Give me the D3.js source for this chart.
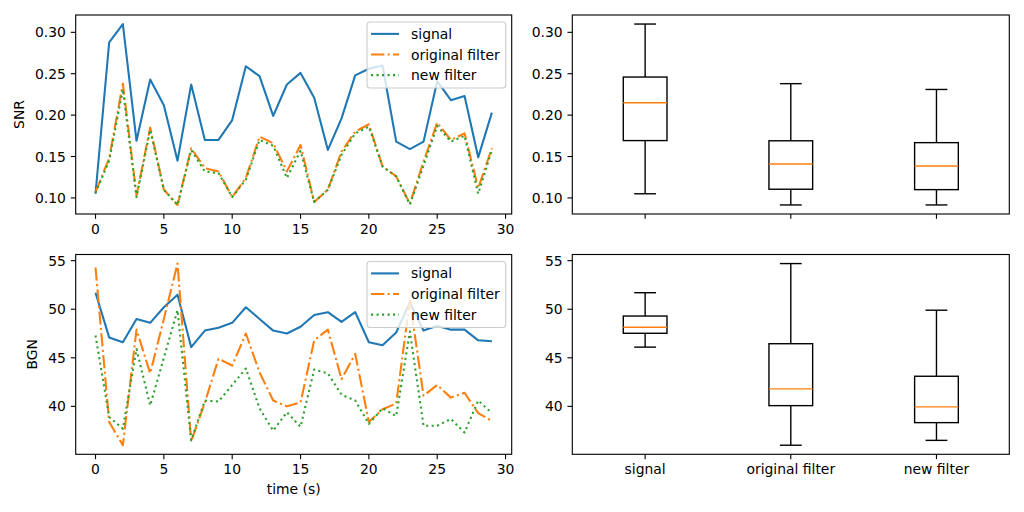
<!DOCTYPE html>
<html>
<head>
<meta charset="utf-8">
<script src="https://cdn.jsdelivr.net/npm/d3@7"></script>
<style>
  body { margin: 0; background: #fff; }
  svg { display: block; font-family: "DejaVu Sans", sans-serif; }
</style>
</head>
<body>
<svg id="chart" width="1024" height="512"></svg>
<script>
// Data
const timeSec = [0,1,2,3,4,5,6,7,8,9,10,11,12,13,14,15,16,17,18,19,20,21,22,23,24,25,26,27,28,29];
const seriesNames = ['signal', 'original filter', 'new filter'];

const snrSignal = [0.105,0.288,0.310,0.169,0.243,0.212,0.145,0.237,0.170,0.170,0.194,0.259,0.247,0.199,0.237,
                   0.251,0.221,0.158,0.196,0.248,0.256,0.260,0.168,0.159,0.168,0.241,0.218,0.223,0.149,0.203];
const snrOriginal = [0.107,0.148,0.238,0.103,0.185,0.110,0.0915,0.160,0.136,0.132,0.101,0.124,0.174,0.166,0.132,
                     0.164,0.095,0.110,0.156,0.180,0.189,0.138,0.126,0.093,0.144,0.191,0.170,0.178,0.112,0.160];
const snrNew = [0.106,0.145,0.231,0.101,0.182,0.110,0.0915,0.158,0.132,0.130,0.101,0.122,0.170,0.163,0.124,
                0.157,0.095,0.110,0.152,0.178,0.186,0.138,0.126,0.092,0.139,0.187,0.168,0.175,0.105,0.158];

const bgnSignal = [51.7,47.1,46.6,49.0,48.6,50.2,51.5,46.1,47.8,48.1,48.6,50.2,49.0,47.8,47.5,
                   48.2,49.4,49.7,48.7,49.7,46.6,46.3,47.6,50.7,47.8,48.3,47.9,47.9,46.8,46.7];
const bgnOriginal = [54.3,38.4,36.0,47.9,43.4,49.0,54.7,36.4,40.4,44.9,44.2,47.5,43.5,40.6,40.0,
                     40.4,46.8,47.9,42.8,45.4,38.4,39.7,40.3,50.9,41.1,42.2,40.9,41.4,39.3,38.5];
const bgnNew = [47.3,38.9,37.7,45.9,40.1,45.0,49.9,36.5,40.6,40.5,42.2,43.9,39.8,37.5,39.4,
                37.9,43.8,43.4,41.2,40.6,38.2,39.8,39.0,47.7,38.0,38.0,38.7,37.3,40.6,39.3];

// Styles (matplotlib defaults at 100 dpi)
const colors = ['#1f77b4', '#ff7f0e', '#2ca02c'];
const dashes = [null, '13.3,3.3,2.1,3.3', '2.1,3.4'];
const fontSize = 13.9;
const tickLen = 4.86, tickPad = 4.86;

const svg = d3.select('#chart');

const colX = { left: [75.7, 511.7], right: [572.3, 1009.3] };
const rowY = { top: [15, 214], bottom: [254.5, 454.3] };

function paddedExtent(arrays) {
  const [lo, hi] = d3.extent(arrays.flat());
  const m = (hi - lo) * 0.05;
  return [lo - m, hi + m];
}

function boxStats(values) {
  const s = values.slice().sort(d3.ascending);
  const q1 = d3.quantile(s, 0.25), med = d3.quantile(s, 0.5), q3 = d3.quantile(s, 0.75);
  const iqr = q3 - q1;
  const lo = d3.min(s.filter(v => v >= q1 - 1.5 * iqr));
  const hi = d3.max(s.filter(v => v <= q3 + 1.5 * iqr));
  const fliers = s.filter(v => v < lo || v > hi);
  return { q1, med, q3, lo, hi, fliers };
}

// Draw ticks and tick labels for one panel
function drawAxes(g, x, y, opts) {
  const [x0, x1] = x.range();
  const [yBottom, yTop] = y.range();

  // y ticks
  const yt = g.append('g');
  opts.yTicks.forEach(t => {
    yt.append('line').attr('x1', x0).attr('x2', x0 - tickLen)
      .attr('y1', y(t)).attr('y2', y(t)).attr('stroke', '#000').attr('stroke-width', 1.11);
    yt.append('text').attr('x', x0 - tickLen - tickPad).attr('y', y(t)).attr('dy', '0.36em')
      .attr('text-anchor', 'end').attr('font-size', fontSize).text(opts.yFormat(t));
  });

  // x ticks
  const xt = g.append('g');
  opts.xTicks.forEach((t, i) => {
    xt.append('line').attr('x1', x(t)).attr('x2', x(t))
      .attr('y1', yBottom).attr('y2', yBottom + tickLen).attr('stroke', '#000').attr('stroke-width', 1.11);
    if (opts.xLabels) {
      xt.append('text').attr('x', x(t)).attr('y', yBottom + tickLen + tickPad + 10.4)
        .attr('text-anchor', 'middle').attr('font-size', fontSize).text(opts.xLabels[i]);
    }
  });

  if (opts.yTitle) {
    const w = d3.max(yt.selectAll('text').nodes(), n => n.getComputedTextLength());
    const cx = x0 - tickLen - tickPad - w - 5.56 - 5.5;
    g.append('text').attr('transform', `translate(${cx},${(yBottom + yTop) / 2}) rotate(-90)`)
      .attr('text-anchor', 'middle').attr('font-size', fontSize).text(opts.yTitle);
  }
  if (opts.xTitle) {
    g.append('text').attr('x', (x0 + x1) / 2).attr('y', yBottom + 40)
      .attr('text-anchor', 'middle').attr('font-size', fontSize).text(opts.xTitle);
  }
}

function drawFrame(g, x, y) {
  const [x0, x1] = x.range();
  const [yBottom, yTop] = y.range();
  g.append('rect').attr('x', x0).attr('y', yTop)
    .attr('width', x1 - x0).attr('height', yBottom - yTop)
    .attr('fill', 'none').attr('stroke', '#000').attr('stroke-width', 1.11);
}

function drawLegend(g, x, y) {
  const [x0, x1] = x.range();
  const top = y.range()[1] + 7;
  const lg = g.append('g');
  const box = lg.append('rect');
  const texts = [];
  seriesNames.forEach((name, i) => {
    const cy = top + 11.9 + i * 20.6;
    lg.append('line').attr('y1', cy).attr('y2', cy)
      .attr('stroke', colors[i]).attr('stroke-width', 2.08)
      .attr('stroke-dasharray', dashes[i]);
    texts.push(lg.append('text').attr('y', cy).attr('dy', '0.36em')
      .attr('font-size', fontSize).text(name));
  });
  const tw = d3.max(texts, t => t.node().getComputedTextLength());
  const bw = 44 + tw + 6;
  const bx = x1 - 6 - bw;
  box.attr('x', bx).attr('y', top).attr('width', bw).attr('height', 66)
    .attr('rx', 3).attr('fill', 'rgba(255,255,255,0.8)').attr('stroke', '#cccccc').attr('stroke-width', 1.11);
  lg.selectAll('line').attr('x1', bx + 4).attr('x2', bx + 32);
  texts.forEach(t => t.attr('x', bx + 44));
}

function linePanel(series, cx, ry, yTicks, yFormat, yTitle, xTitle) {
  const g = svg.append('g');
  const x = d3.scaleLinear().domain([-1.45, 30.45]).range(cx);
  const y = d3.scaleLinear().domain(paddedExtent(series)).range([ry[1], ry[0]]);
  const xTicks = [0, 5, 10, 15, 20, 25, 30];
  drawAxes(g, x, y, { yTicks, yFormat, yTitle, xTicks, xLabels: xTicks.map(String), xTitle });
  const line = d3.line().x((d, i) => x(timeSec[i])).y(d => y(d));
  series.forEach((s, i) => {
    g.append('path').datum(s).attr('d', line).attr('fill', 'none')
      .attr('stroke', colors[i]).attr('stroke-width', 2.08)
      .attr('stroke-dasharray', dashes[i]).attr('stroke-linejoin', 'round');
  });
  drawFrame(g, x, y);
  drawLegend(g, x, y);
}

function boxPanel(series, cx, ry, yTicks, yFormat, showLabels) {
  const g = svg.append('g');
  const x = d3.scaleLinear().domain([0.5, 3.5]).range(cx);
  const y = d3.scaleLinear().domain(paddedExtent(series)).range([ry[1], ry[0]]);
  drawAxes(g, x, y, { yTicks, yFormat, xTicks: [1, 2, 3], xLabels: showLabels ? seriesNames : null });
  const hw = 0.15, cw = 0.075;
  series.forEach((s, i) => {
    const b = boxStats(s);
    const p = i + 1;
    const k = g.append('g').attr('stroke', '#000').attr('stroke-width', 1.39).attr('fill', 'none');
    k.append('line').attr('x1', x(p)).attr('x2', x(p)).attr('y1', y(b.q1)).attr('y2', y(b.lo));
    k.append('line').attr('x1', x(p)).attr('x2', x(p)).attr('y1', y(b.q3)).attr('y2', y(b.hi));
    k.append('line').attr('x1', x(p - cw)).attr('x2', x(p + cw)).attr('y1', y(b.lo)).attr('y2', y(b.lo));
    k.append('line').attr('x1', x(p - cw)).attr('x2', x(p + cw)).attr('y1', y(b.hi)).attr('y2', y(b.hi));
    k.append('rect').attr('x', x(p - hw)).attr('y', y(b.q3))
      .attr('width', x(p + hw) - x(p - hw)).attr('height', y(b.q1) - y(b.q3));
    b.fliers.forEach(v => k.append('circle').attr('cx', x(p)).attr('cy', y(v)).attr('r', 4.2));
    g.append('line').attr('x1', x(p - hw)).attr('x2', x(p + hw)).attr('y1', y(b.med)).attr('y2', y(b.med))
      .attr('stroke', '#ff7f0e').attr('stroke-width', 1.39);
  });
  drawFrame(g, x, y);
}

const snrSeries = [snrSignal, snrOriginal, snrNew];
const bgnSeries = [bgnSignal, bgnOriginal, bgnNew];
const snrTicks = [0.10, 0.15, 0.20, 0.25, 0.30];
const bgnTicks = [40, 45, 50, 55];

linePanel(snrSeries, colX.left, rowY.top, snrTicks, d3.format('.2f'), 'SNR', null);
linePanel(bgnSeries, colX.left, rowY.bottom, bgnTicks, d3.format('d'), 'BGN', 'time (s)');
boxPanel(snrSeries, colX.right, rowY.top, snrTicks, d3.format('.2f'), false);
boxPanel(bgnSeries, colX.right, rowY.bottom, bgnTicks, d3.format('d'), true);
</script>
</body>
</html>
